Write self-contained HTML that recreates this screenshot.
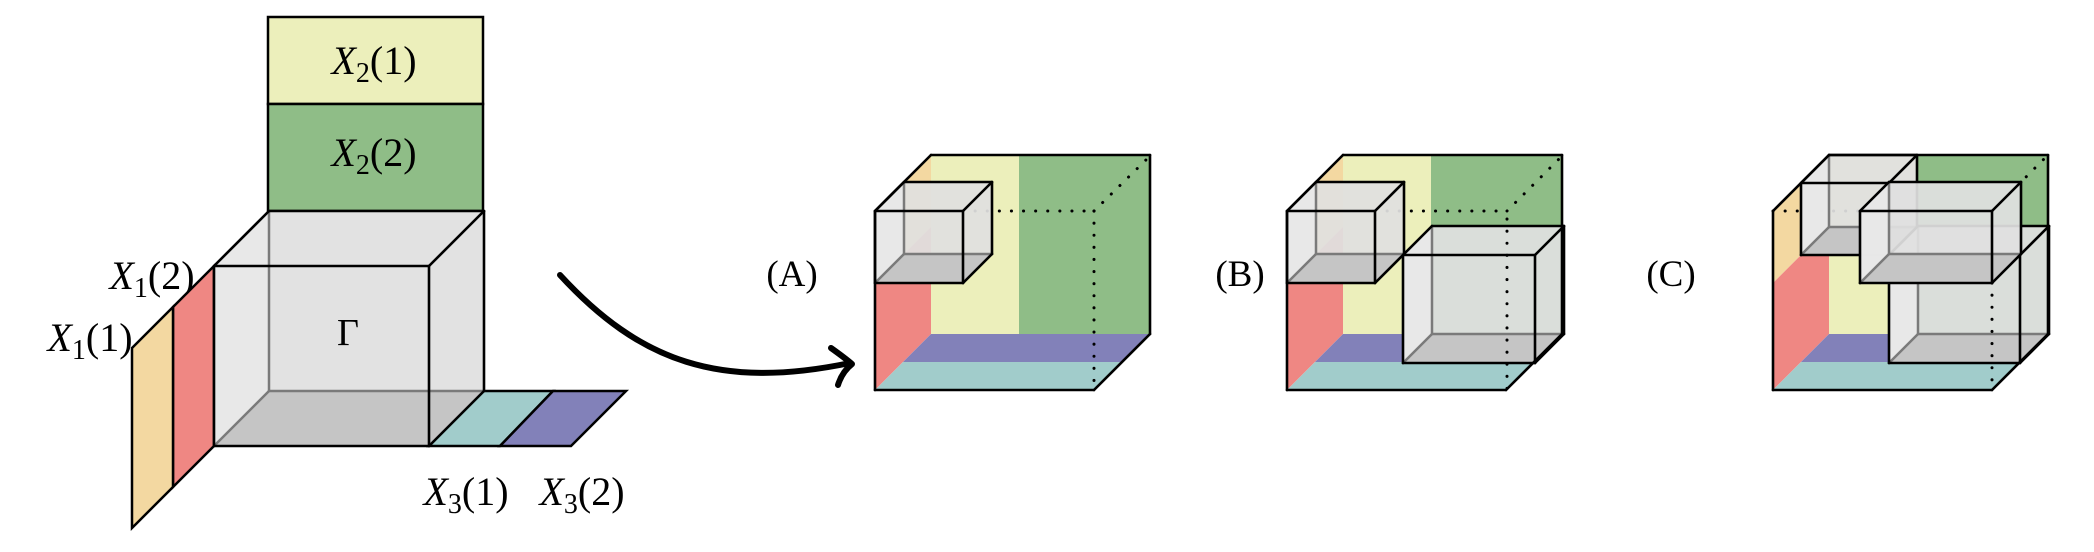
<!DOCTYPE html>
<html><head><meta charset="utf-8">
<style>
html,body{margin:0;padding:0;background:#fff;}
svg{display:block;}
text{font-family:"Liberation Serif","DejaVu Serif",serif;fill:#000;}
</style></head>
<body>
<svg id="s" width="2094" height="552" viewBox="0 0 2094 552" xmlns="http://www.w3.org/2000/svg">
<rect x="268" y="17" width="215" height="87" fill="#ecefbb" stroke="#000" stroke-width="2.5"/>
<rect x="268" y="104" width="215" height="107" fill="#8fbd87" stroke="#000" stroke-width="2.5"/>
<polygon points="214,266 214,446 173,487 173,307" fill="#ef8783" stroke="#000" stroke-width="2.5"/>
<polygon points="173,307 173,487 132,528 132,348" fill="#f3d8a1" stroke="#000" stroke-width="2.5"/>
<polygon points="429,446 483,391 553,391 500,446" fill="#a1cccb" stroke="#000" stroke-width="2.5"/>
<polygon points="500,446 553,391 626,391 571,446" fill="#8281b9" stroke="#000" stroke-width="2.5"/>
<g id="left"></g>
<text x="374" y="74" font-size="40" text-anchor="middle"><tspan font-style="italic">X</tspan><tspan font-size="28" dy="8">2</tspan><tspan dy="-8">(1)</tspan></text>
<text x="374" y="166" font-size="40" text-anchor="middle"><tspan font-style="italic">X</tspan><tspan font-size="28" dy="8">2</tspan><tspan dy="-8">(2)</tspan></text>
<text x="348" y="345" font-size="38" text-anchor="middle">Γ</text>
<text x="152" y="289" font-size="40" text-anchor="middle"><tspan font-style="italic">X</tspan><tspan font-size="28" dy="8">1</tspan><tspan dy="-8">(2)</tspan></text>
<text x="90" y="351" font-size="40" text-anchor="middle"><tspan font-style="italic">X</tspan><tspan font-size="28" dy="8">1</tspan><tspan dy="-8">(1)</tspan></text>
<text x="466" y="505" font-size="40" text-anchor="middle"><tspan font-style="italic">X</tspan><tspan font-size="28" dy="8">3</tspan><tspan dy="-8">(1)</tspan></text>
<text x="582" y="505" font-size="40" text-anchor="middle"><tspan font-style="italic">X</tspan><tspan font-size="28" dy="8">3</tspan><tspan dy="-8">(2)</tspan></text>
<path d="M560,275 C640,362 720,390 850,363" fill="none" stroke="#000" stroke-width="6" stroke-linecap="round"/>
<path d="M831,348 Q845,358 852,364 Q842,372 838,385" fill="none" stroke="#000" stroke-width="6" stroke-linecap="round" stroke-linejoin="round"/>
<text x="792" y="286" font-size="37" text-anchor="middle">(A)</text>
<text x="1240" y="286" font-size="37" text-anchor="middle">(B)</text>
<text x="1671" y="286" font-size="37" text-anchor="middle">(C)</text>
<g id="cubes"></g>
</svg>
<script>
var NS="http://www.w3.org/2000/svg";
function el(par,tag,attrs){var e=document.createElementNS(NS,tag);for(var k in attrs)e.setAttribute(k,attrs[k]);par.appendChild(e);return e;}
function poly(par,pts,fill,stroke,sw,extra){var a={points:pts.map(function(p){return p.join(",")}).join(" "),fill:fill||"none"};if(stroke){a.stroke=stroke;a["stroke-width"]=sw||2.5;a["stroke-linejoin"]="round";}if(extra)for(var k in extra)a[k]=extra[k];return el(par,"polygon",a);}
function line(par,x1,y1,x2,y2,stroke,sw,dash){var a={x1:x1,y1:y1,x2:x2,y2:y2,stroke:stroke,"stroke-width":sw,"stroke-linecap":"round"};if(dash)a["stroke-dasharray"]=dash;return el(par,"line",a);}
function box(par,fx,fy,w,h,d,opts){
  opts=opts||{};
  var bx=fx+d,by=fy-d;
  poly(par,[[fx,fy],[bx,by],[bx+w,by],[bx+w,by+h],[fx+w,fy+h],[fx,fy+h]],"#e0e0e0",null,0,{"fill-opacity":opts.op||0.93});
  poly(par,[[fx,fy],[bx,by],[bx,by+h],[fx,fy+h]],"#e9e9e9",null,0,{"fill-opacity":0.9});
  poly(par,[[fx,fy+h],[bx,by+h],[bx+w,by+h],[fx+w,fy+h]],"#c5c5c5",null,0);
  var g="#7a7a7a";
  line(par,bx,by,bx,by+h,g,2.5);
  line(par,bx,by+h,bx+w,by+h,g,2.5);
  line(par,fx,fy+h,bx,by+h,g,2.5);
  var k="#000",s=2.6;
  line(par,fx,fy,fx+w,fy,k,s);line(par,fx+w,fy,fx+w,fy+h,k,s);line(par,fx+w,fy+h,fx,fy+h,k,s);line(par,fx,fy+h,fx,fy,k,s);
  line(par,fx,fy,bx,by,k,s);line(par,bx,by,bx+w,by,k,s);line(par,bx+w,by,bx+w,by+h,k,s);
  line(par,fx+w,fy,bx+w,by,k,s);line(par,fx+w,fy+h,bx+w,by+h,k,s);
}
box(document.getElementById("left"),214,266,215,180,55);
var C=document.getElementById("cubes");
function bigCube(fx){
  var fy=211,w=219,h=179,d=56,bx=fx+d,by=fy-d;
  poly(C,[[bx,by],[bx+88,by],[bx+88,by+h],[bx,by+h]],"#ecefbb");
  poly(C,[[bx+88,by],[bx+w,by],[bx+w,by+h],[bx+88,by+h]],"#8fbd87");
  poly(C,[[fx,fy],[bx,by],[bx,by+72],[fx,fy+72]],"#f3d8a1");
  poly(C,[[fx,fy+72],[bx,by+72],[bx,by+h],[fx,fy+h]],"#ef8783");
  var md=d/2;
  poly(C,[[fx+md,fy+h-md],[bx,by+h],[bx+w,by+h],[fx+w+md,fy+h-md]],"#8281b9");
  poly(C,[[fx,fy+h],[fx+md,fy+h-md],[fx+w+md,fy+h-md],[fx+w,fy+h]],"#a1cccb");
}
function outline(fx){
  var fy=211,w=219,h=179,d=56,bx=fx+d,by=fy-d,k="#000",s=2.6;
  line(C,fx,fy,fx,fy+h,k,s);line(C,fx,fy+h,fx+w,fy+h,k,s);line(C,fx+w,fy+h,bx+w,by+h,k,s);
  line(C,bx+w,by+h,bx+w,by,k,s);line(C,bx+w,by,bx,by,k,s);line(C,bx,by,fx,fy,k,s);
}
function dots(x1,y1,x2,y2){line(C,x1,y1,x2,y2,"#000",3,"0.1 12");}
bigCube(875);
dots(963,211,1094,211);dots(1094,211,1094,390);dots(1094,211,1151,155);
box(C,875,211,88,72,29);
outline(875);
bigCube(1287);
dots(1375,211,1507,211);dots(1507,211,1563,155);
box(C,1287,211,88,72,29);
box(C,1403,255,132,108,29);
dots(1507,219,1507,390);
outline(1287);
bigCube(1773);
dots(1773,211,1860,211);dots(1992,211,2048,155);
box(C,1801,183,88,72,28);
box(C,1889,255,131,108,29);
box(C,1860,211,132,72,29);
dots(1992,283,1992,390);
outline(1773);
</script>
</body></html>
